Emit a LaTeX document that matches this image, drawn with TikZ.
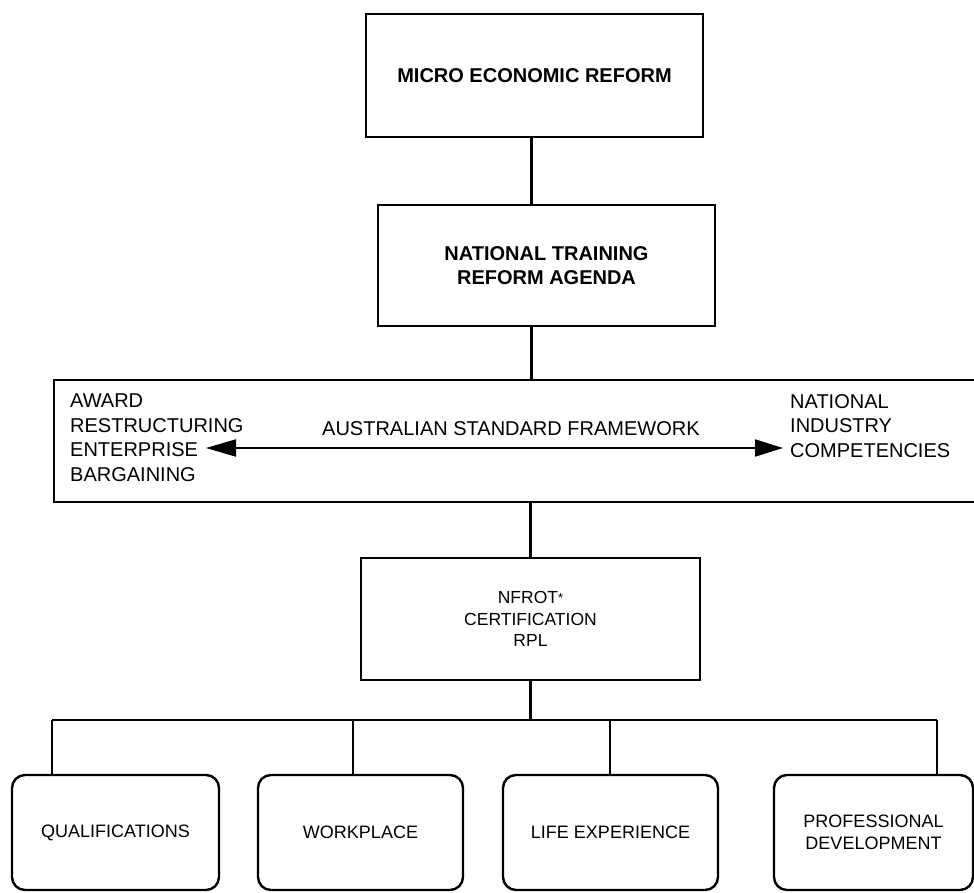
\documentclass[tikz,border=0pt]{standalone}
\usepackage{fontspec}
\setmainfont{Liberation Sans}
\usetikzlibrary{arrows.meta}
\begin{document}
\begin{tikzpicture}[x=1pt,y=-1pt,
  line/.style={line width=2.4pt, black},
  boxstyle/.style={draw, line width=2.4pt, inner sep=0pt, align=center},
  topbox/.style={boxstyle, font=\bfseries\fontsize{20}{24}\selectfont},
  midbox/.style={boxstyle, font=\fontsize{17.5}{21.5}\selectfont},
  leafbox/.style={boxstyle, rounded corners=13pt, minimum height=115pt, font=\fontsize{18}{22}\selectfont},
  bandtext/.style={inner sep=0pt, align=left, font=\fontsize{20}{24.5}\selectfont},
  dblarrow/.style={line width=2pt, {Triangle[length=30pt,width=17pt]}-{Triangle[length=28pt,width=17pt]}}
]
\useasboundingbox (0,0) rectangle (974,893);
\clip (0,0) rectangle (974,893);

% top boxes
\node[topbox, minimum width=337pt, minimum height=123pt] (mer) at (534.5,75.5) {MICRO ECONOMIC REFORM};
\node[topbox, minimum width=337pt, minimum height=121pt] (ntra) at (546.5,265.5) {NATIONAL TRAINING\\REFORM AGENDA};

% band
\node[boxstyle, minimum width=936pt, minimum height=122pt] (band) at (522,441) {};
\node[bandtext, anchor=north west] (left) at (70,394) {AWARD\\RESTRUCTURING\\ENTERPRISE\\BARGAINING};
\node[bandtext, anchor=north west] (right) at (790,394) {NATIONAL\\INDUSTRY\\COMPETENCIES};
\node[bandtext, anchor=north west] (asf) at (322,421) {AUSTRALIAN STANDARD FRAMEWORK};
\coordinate (al) at (206,448);
\coordinate (ar) at (783,448);
\draw[dblarrow] (al) -- (ar);

% NFROT box
\node[midbox, minimum width=339pt, minimum height=122pt] (nfrot) at (530.5,619) {NFROT{\fontsize{13}{13}\selectfont\raisebox{1pt}{*}}\\CERTIFICATION\\RPL};

% leaf boxes
\node[leafbox, minimum width=207pt] (q) at (115.5,832.5) {QUALIFICATIONS};
\node[leafbox, minimum width=205pt] (w) at (360.5,832.5) {WORKPLACE};
\node[leafbox, minimum width=215pt] (l) at (610.5,832.5) {LIFE EXPERIENCE};
\node[leafbox, minimum width=199pt] (p) at (873.5,832.5) {PROFESSIONAL\\DEVELOPMENT};

% connectors
\coordinate (vx) at (531.5,0);
\draw[line] (vx |- mer.south) -- (vx |- ntra.north);
\draw[line] (vx |- ntra.south) -- (vx |- band.north);
\draw[line] (nfrot.south |- band.south) -- (nfrot.north);

\coordinate (bq) at (52,720);
\coordinate (bw) at (353,720);
\coordinate (bl) at (610,720);
\coordinate (bp) at (937,720);
\draw[line] (nfrot.south) -- (nfrot.south |- bq);
\draw[line] (bq) -- (bp);
\draw[line] (bq) -- (bq |- q.north);
\draw[line] (bw) -- (bw |- w.north);
\draw[line] (bl) -- (bl |- l.north);
\draw[line] (bp) -- (bp |- p.north);
\end{tikzpicture}
\end{document}
